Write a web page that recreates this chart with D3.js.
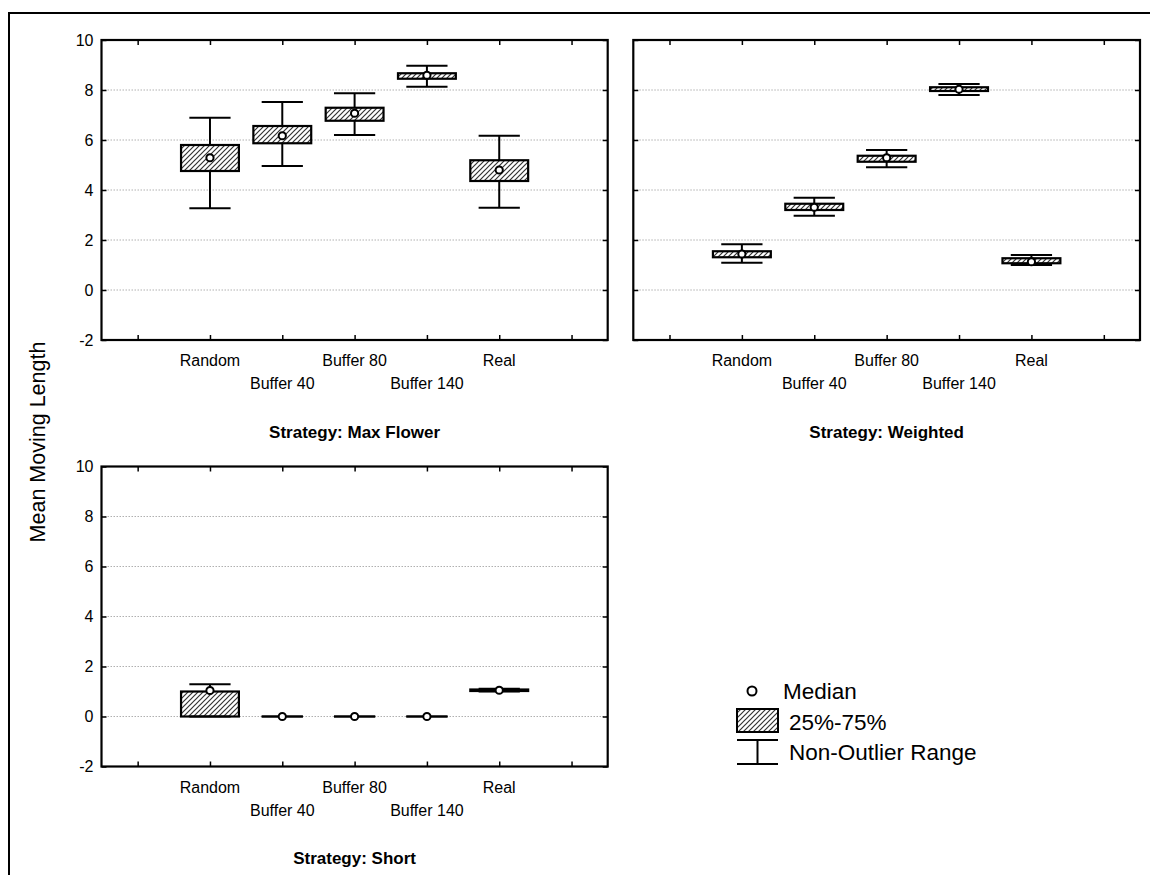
<!DOCTYPE html>
<html>
<head>
<meta charset="utf-8">
<script src="https://cdn.jsdelivr.net/npm/d3@7"></script>
<style>
  html, body { margin: 0; padding: 0; background: #fff; }
  svg { display: block; font-family: "Liberation Sans", Arial, sans-serif; }
</style>
</head>
<body>
<svg id="chart" width="1150" height="875"></svg>
<script>
// ---------- data ----------
const categories = ["Random", "Buffer 40", "Buffer 80", "Buffer 140", "Real"];
const yTicks = [-2, 0, 2, 4, 6, 8, 10];
const yGrid = [0, 2, 4, 6, 8];
const legendLabels = ["Median", "25%-75%", "Non-Outlier Range"];
const yAxisTitle = "Mean Moving Length";

const maxFlowerMedian = [5.29, 6.17, 7.07, 8.59, 4.80];
const maxFlowerQ1     = [4.76, 5.87, 6.77, 8.45, 4.36];
const maxFlowerQ3     = [5.80, 6.56, 7.29, 8.67, 5.19];
const maxFlowerMin    = [3.27, 4.96, 6.20, 8.13, 3.29];
const maxFlowerMax    = [6.89, 7.52, 7.87, 8.97, 6.17];

const weightedMedian = [1.44, 3.31, 5.29, 8.03, 1.13];
const weightedQ1     = [1.31, 3.20, 5.13, 7.96, 1.07];
const weightedQ3     = [1.55, 3.45, 5.37, 8.11, 1.27];
const weightedMin    = [1.09, 2.97, 4.91, 7.80, 1.00];
const weightedMax    = [1.83, 3.69, 5.60, 8.24, 1.40];

const shortMedian = [1.04, 0, 0, 0, 1.05];
const shortQ1     = [0.00, 0, 0, 0, 1.02];
const shortQ3     = [1.00, 0, 0, 0, 1.08];
const shortMin    = [0.00, 0, 0, 0, 1.00];
const shortMax    = [1.29, 0, 0, 0, 1.11];

function build(med, q1, q3, lo, hi) {
  return categories.map((c, i) => ({ cat: c, pos: i + 1, med: med[i], q1: q1[i], q3: q3[i], lo: lo[i], hi: hi[i] }));
}

const panels = [
  { title: "Strategy: Max Flower", x0: 101.5, x1: 607.7, y0: 40, y1: 340, showY: true, titleDy: 98,
    data: build(maxFlowerMedian, maxFlowerQ1, maxFlowerQ3, maxFlowerMin, maxFlowerMax) },
  { title: "Strategy: Weighted", x0: 633.3, x1: 1140, y0: 40, y1: 340, showY: false, titleDy: 98,
    data: build(weightedMedian, weightedQ1, weightedQ3, weightedMin, weightedMax) },
  { title: "Strategy: Short", x0: 101.5, x1: 607.7, y0: 466.5, y1: 766.5, showY: true, titleDy: 97,
    data: build(shortMedian, shortQ1, shortQ3, shortMin, shortMax) }
];

// ---------- drawing ----------
const svg = d3.select("#chart");
const defs = svg.append("defs");
const pat = defs.append("pattern")
  .attr("id", "hatch").attr("patternUnits", "userSpaceOnUse")
  .attr("width", 5).attr("height", 5);
pat.append("rect").attr("width", 5).attr("height", 5).attr("fill", "#fff");
pat.append("path").attr("d", "M-1,1 l2,-2 M0,5 l5,-5 M4,6 l2,-2")
  .attr("stroke", "#333").attr("stroke-width", 1.2);

// outer frame (cut off at right/bottom as in the reference)
svg.append("rect").attr("x", 9).attr("y", 13).attr("width", 1200).attr("height", 900)
  .attr("fill", "none").attr("stroke", "#000").attr("stroke-width", 2);

// y axis title
svg.append("text")
  .attr("transform", "translate(45,442) rotate(-90)")
  .attr("text-anchor", "middle")
  .attr("font-size", 21.5)
  .text(yAxisTitle);

const boxFrac = 0.8, capFrac = 0.57;

panels.forEach(p => {
  const x = d3.scaleLinear().domain([-0.5, 6.5]).range([p.x0, p.x1]);
  const y = d3.scaleLinear().domain([-2, 10]).range([p.y1, p.y0]);
  const slot = x(1) - x(0);
  const g = svg.append("g");

  // grid
  g.selectAll("line.grid").data(yGrid).join("line")
    .attr("x1", p.x0).attr("x2", p.x1)
    .attr("y1", d => y(d)).attr("y2", d => y(d))
    .attr("stroke", "#b0b0b0").attr("stroke-width", 1).attr("stroke-dasharray", "1.5,1.5");

  // axes with inward ticks
  const xt = d3.range(0, 7);
  const axB = d3.axisBottom(x).tickValues(xt).tickSizeInner(-5).tickSizeOuter(0).tickFormat("");
  const axT = d3.axisTop(x).tickValues(xt).tickSizeInner(-5).tickSizeOuter(0).tickFormat("");
  const axL = d3.axisLeft(y).tickValues(yTicks).tickSizeInner(-5).tickSizeOuter(0)
    .tickPadding(8).tickFormat(p.showY ? (d => String(d)) : "");
  const axR = d3.axisRight(y).tickValues(yTicks).tickSizeInner(-5).tickSizeOuter(0).tickFormat("");
  [[axB, `translate(0,${p.y1})`], [axT, `translate(0,${p.y0})`],
   [axL, `translate(${p.x0},0)`], [axR, `translate(${p.x1},0)`]].forEach(([ax, tr]) => {
    const a = g.append("g").attr("transform", tr).call(ax);
    a.select(".domain").remove();
    a.selectAll(".tick line").attr("stroke", "#000").attr("stroke-width", 1.5);
    a.selectAll("text").attr("font-size", 16).attr("fill", "#000")
      .attr("font-family", "Liberation Sans, Arial, sans-serif");
  });

  // category labels (staggered rows)
  g.selectAll("text.cat").data(p.data).join("text")
    .attr("x", d => x(d.pos))
    .attr("y", (d, i) => p.y1 + (i % 2 === 0 ? 26 : 49))
    .attr("text-anchor", "middle").attr("font-size", 16)
    .text(d => d.cat);

  // boxes
  const bw = slot * boxFrac, cw = slot * capFrac;
  const bx = g.selectAll("g.box").data(p.data).join("g");
  bx.append("line").attr("x1", d => x(d.pos)).attr("x2", d => x(d.pos))
    .attr("y1", d => y(d.hi)).attr("y2", d => y(d.q3))
    .attr("stroke", "#000").attr("stroke-width", 2);
  bx.append("line").attr("x1", d => x(d.pos)).attr("x2", d => x(d.pos))
    .attr("y1", d => y(d.q1)).attr("y2", d => y(d.lo))
    .attr("stroke", "#000").attr("stroke-width", 2);
  bx.append("rect")
    .attr("x", d => x(d.pos) - bw / 2).attr("width", bw)
    .attr("y", d => y(d.q3)).attr("height", d => Math.max(0, y(d.q1) - y(d.q3)))
    .attr("fill", "url(#hatch)").attr("stroke", "#000").attr("stroke-width", 2.2);
  bx.append("line").attr("x1", d => x(d.pos) - cw / 2).attr("x2", d => x(d.pos) + cw / 2)
    .attr("y1", d => y(d.hi)).attr("y2", d => y(d.hi))
    .attr("stroke", "#000").attr("stroke-width", 2);
  bx.append("line").attr("x1", d => x(d.pos) - cw / 2).attr("x2", d => x(d.pos) + cw / 2)
    .attr("y1", d => y(d.lo)).attr("y2", d => y(d.lo))
    .attr("stroke", "#000").attr("stroke-width", 2);
  bx.append("circle").attr("cx", d => x(d.pos)).attr("cy", d => y(d.med)).attr("r", 3.6)
    .attr("fill", "#fff").attr("stroke", "#000").attr("stroke-width", 2);

  // frame
  g.append("rect").attr("x", p.x0).attr("y", p.y0)
    .attr("width", p.x1 - p.x0).attr("height", p.y1 - p.y0)
    .attr("fill", "none").attr("stroke", "#000").attr("stroke-width", 2.2);

  // title
  g.append("text").attr("x", (p.x0 + p.x1) / 2).attr("y", p.y1 + p.titleDy)
    .attr("text-anchor", "middle").attr("font-size", 17).attr("font-weight", "bold")
    .text(p.title);
});

// ---------- legend ----------
const lg = svg.append("g");
lg.append("circle").attr("cx", 752).attr("cy", 691).attr("r", 4.5)
  .attr("fill", "#fff").attr("stroke", "#000").attr("stroke-width", 2);
lg.append("rect").attr("x", 737).attr("y", 709).attr("width", 41).attr("height", 23)
  .attr("fill", "url(#hatch)").attr("stroke", "#000").attr("stroke-width", 2);
lg.append("line").attr("x1", 737).attr("x2", 778).attr("y1", 740).attr("y2", 740).attr("stroke", "#000").attr("stroke-width", 2);
lg.append("line").attr("x1", 757.5).attr("x2", 757.5).attr("y1", 740).attr("y2", 764).attr("stroke", "#000").attr("stroke-width", 2);
lg.append("line").attr("x1", 737).attr("x2", 778).attr("y1", 764).attr("y2", 764).attr("stroke", "#000").attr("stroke-width", 2);
const lx = [783, 789, 789], ly = [699, 730, 760];
lg.selectAll("text").data(legendLabels).join("text")
  .attr("x", (d, i) => lx[i]).attr("y", (d, i) => ly[i])
  .attr("font-size", 22.5).text(d => d);
</script>
</body>
</html>
